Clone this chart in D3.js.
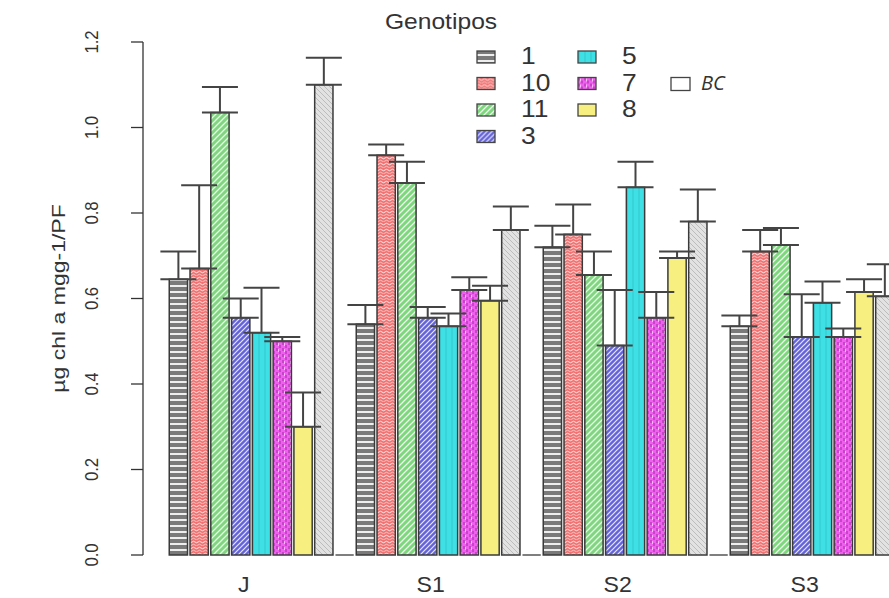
<!DOCTYPE html>
<html>
<head>
<meta charset="utf-8">
<script src="https://cdn.jsdelivr.net/npm/d3@7"></script>
<style>
  body { margin: 0; background: #fff; }
  text { font-family: "Liberation Sans", Arial, sans-serif; fill: #333; }
</style>
</head>
<body>
<div id="chart"></div>
<script>

  // data
  let groups = ["J", "S1", "S2", "S3"];
  let genotypes = ["1", "10", "11", "3", "5", "7", "8", "BC", "blank"];
  let yTicks = [0, 0.2, 0.4, 0.6, 0.8, 1.0, 1.2];

  let meanJ  = [0.645, 0.67, 1.035, 0.555, 0.52, 0.50, 0.30, 1.10, 0];
  let upperJ = [0.71, 0.865, 1.095, 0.60, 0.625, 0.51, 0.38, 1.163, 0];
  let meanS1  = [0.54, 0.935, 0.87, 0.555, 0.535, 0.62, 0.595, 0.76, 0];
  let upperS1 = [0.585, 0.96, 0.92, 0.58, 0.565, 0.65, 0.63, 0.815, 0];
  let meanS2  = [0.72, 0.75, 0.655, 0.49, 0.86, 0.555, 0.695, 0.78, 0];
  let upperS2 = [0.77, 0.82, 0.71, 0.62, 0.92, 0.615, 0.71, 0.855, 0];
  let meanS3  = [0.535, 0.71, 0.725, 0.51, 0.59, 0.51, 0.615, 0.605, 0];
  let upperS3 = [0.56, 0.76, 0.765, 0.61, 0.64, 0.53, 0.645, 0.68, 0];

  let means = [meanJ, meanS1, meanS2, meanS3];
  let uppers = [upperJ, upperS1, upperS2, upperS3];

  let width = 889;
  let height = 598;

  let svg = d3.select("#chart").append("svg")
              .attr("width", width)
              .attr("height", height);

  // fill patterns, one per genotype
  let defs = svg.append("defs");

  let makePattern = function(id, base, size, draw) {
    let p = defs.append("pattern")
                .attr("id", id)
                .attr("patternUnits", "userSpaceOnUse")
                .attr("width", size)
                .attr("height", size);
    p.append("rect").attr("width", size).attr("height", size).attr("fill", base);
    draw(p);
  }

  makePattern("p1", "#7a7a7a", 6, function(p) {
    p.append("rect").attr("x", 0).attr("y", 3).attr("width", 6).attr("height", 2).attr("fill", "#eee");
  });
  makePattern("p10", "#f07474", 6, function(p) {
    p.append("path").attr("d", "M0,2 q1.5,-1.5 3,0 t3,0").attr("stroke", "#fff").attr("stroke-width", 1).attr("fill", "none").attr("opacity", 0.8);
    p.append("path").attr("d", "M0,5 q1.5,-1.5 3,0 t3,0").attr("stroke", "#fbd0d0").attr("stroke-width", 0.8).attr("fill", "none");
  });
  makePattern("p11", "#7fd67f", 6, function(p) {
    p.append("path").attr("d", "M0,6 L6,0 M-1,1 L1,-1 M5,7 L7,5").attr("stroke", "#e8fbe8").attr("stroke-width", 1.3);
  });
  makePattern("p3", "#6464d8", 5, function(p) {
    p.append("path").attr("d", "M0,5 L5,0 M-1,1 L1,-1 M4,6 L6,4").attr("stroke", "#e6e6ff").attr("stroke-width", 1.2);
  });
  makePattern("p5", "#3ee0e6", 6, function(p) {
    p.append("path").attr("d", "M1,0 L1,6").attr("stroke", "#2ab8c0").attr("stroke-width", 0.6);
  });
  makePattern("p7", "#f060ee", 6, function(p) {
    p.append("path").attr("d", "M1,0 L1,3 M4,3 L4,6").attr("stroke", "#9a2aa0").attr("stroke-width", 1);
    p.append("path").attr("d", "M2.5,1 L2.5,4").attr("stroke", "#fbd0fb").attr("stroke-width", 0.8);
  });
  makePattern("p8", "#f7ef80", 6, function(p) {});
  makePattern("pBC", "#e2e2e2", 5, function(p) {
    p.append("path").attr("d", "M0,0 L5,5 M-1,4 L1,6 M4,-1 L6,1").attr("stroke", "#b8b8b8").attr("stroke-width", 0.9);
  });

  let fills = ["url(#p1)", "url(#p10)", "url(#p11)", "url(#p3)", "url(#p5)", "url(#p7)", "url(#p8)", "url(#pBC)", "none"];
  let legendFills = ["url(#p1)", "url(#p10)", "url(#p11)", "url(#p3)", "url(#p5)", "url(#p7)", "url(#p8)", "#fff"];

  // scales
  let y = d3.scaleLinear().domain([0, 1.2]).range([555, 42]);

  let x0 = d3.scaleBand()
             .domain(groups)
             .range([168, 168 + 187 * groups.length])
             .paddingInner(0)
             .paddingOuter(0);

  let x1 = d3.scaleBand()
             .domain(genotypes)
             .range([0, x0.bandwidth()])
             .paddingInner(0.12)
             .paddingOuter(0.06);

  // y axis
  let yAxis = svg.append("g")
                 .attr("transform", "translate(143,0)")
                 .call(d3.axisLeft(y).tickValues(yTicks).tickSize(12).tickFormat(d3.format(".1f")));
  yAxis.selectAll("path, line").attr("stroke", "#333").attr("stroke-width", 1.3);
  yAxis.select(".domain").attr("d", "M0," + y(0) + "V" + y(1.2));
  yAxis.selectAll(".tick").attr("transform", null);
  yAxis.selectAll(".tick line").attr("transform", function(d) { return "translate(0," + y(d) + ")"; });
  yAxis.selectAll("text")
       .attr("font-size", 19)
       .attr("fill", "#333")
       .attr("text-anchor", "middle")
       .attr("x", 0)
       .attr("y", 0)
       .attr("dy", 0)
       .attr("dominant-baseline", "middle")
       .attr("transform", function(d) { return "translate(-50," + y(d) + ") rotate(-90) scale(0.88,1)"; });

  svg.append("text")
     .attr("transform", "translate(60," + ((y(0) + y(1.2)) / 2) + ") rotate(-90) scale(1.28,1)")
     .attr("text-anchor", "middle")
     .attr("dominant-baseline", "middle")
     .attr("font-size", 18)
     .text("µg chl a mgg-1/PF");

  // bars
  let rows = [];
  groups.forEach(function(g, gi) {
    genotypes.forEach(function(k, ki) {
      rows.push({ group: g, key: k, i: ki, mean: means[gi][ki], upper: uppers[gi][ki] });
    });
  });

  let plot = svg.append("g");

  let groupNodes = plot.selectAll("g.group")
                       .data(groups)
                       .enter()
                       .append("g")
                       .attr("class", "group")
                       .attr("transform", function(d) { return "translate(" + x0(d) + ",0)"; });

  groupNodes.selectAll("rect.bar")
            .data(function(g) { return rows.filter(function(r) { return r.group == g && r.key != "blank"; }); })
            .enter()
            .append("rect")
            .attr("class", "bar")
            .attr("x", function(d) { return x1(d.key); })
            .attr("width", x1.bandwidth())
            .attr("y", function(d) { return y(d.mean); })
            .attr("height", function(d) { return y(0) - y(d.mean); })
            .attr("fill", function(d) { return fills[d.i]; })
            .attr("stroke", "#3a3a3a")
            .attr("stroke-width", 1.5);

  // empty spacer bar drawn as a flat line
  groupNodes.append("line")
            .attr("x1", x1("blank"))
            .attr("x2", x1("blank") + x1.bandwidth())
            .attr("y1", y(0))
            .attr("y2", y(0))
            .attr("stroke", "#555")
            .attr("stroke-width", 1.5);

  // error bars
  let capHalf = 18;
  let errs = groupNodes.selectAll("g.err")
                       .data(function(g) { return rows.filter(function(r) { return r.group == g && r.key != "blank"; }); })
                       .enter()
                       .append("g")
                       .attr("class", "err")
                       .attr("stroke", "#444")
                       .attr("stroke-width", 2);
  errs.append("line")
      .attr("x1", function(d) { return x1(d.key) + x1.bandwidth() / 2; })
      .attr("x2", function(d) { return x1(d.key) + x1.bandwidth() / 2; })
      .attr("y1", function(d) { return y(d.mean); })
      .attr("y2", function(d) { return y(d.upper); });
  errs.append("line")
      .attr("x1", function(d) { return x1(d.key) + x1.bandwidth() / 2 - capHalf; })
      .attr("x2", function(d) { return x1(d.key) + x1.bandwidth() / 2 + capHalf; })
      .attr("y1", function(d) { return y(d.upper); })
      .attr("y2", function(d) { return y(d.upper); });
  errs.append("line")
      .attr("x1", function(d) { return x1(d.key) + x1.bandwidth() / 2 - capHalf; })
      .attr("x2", function(d) { return x1(d.key) + x1.bandwidth() / 2 + capHalf; })
      .attr("y1", function(d) { return y(d.mean); })
      .attr("y2", function(d) { return y(d.mean); });

  // group labels
  groupNodes.append("text")
            .attr("transform", "translate(" + (x0.bandwidth() * 0.405) + ",592) scale(1.05,1)")
            .attr("text-anchor", "middle")
            .attr("font-size", 22)
            .text(function(d) { return d; });

  // legend
  let legend = svg.append("g");
  legend.append("text")
        .attr("transform", "translate(441,29) scale(1.12,1)")
        .attr("text-anchor", "middle")
        .attr("font-size", 22)
        .text("Genotipos");

  let legendItems = genotypes.slice(0, 7).map(function(k, i) {
    return { key: k, i: i, col: i < 4 ? 0 : 1, row: i < 4 ? i : i - 4 };
  });

  let li = legend.selectAll("g.item")
                 .data(legendItems)
                 .enter()
                 .append("g")
                 .attr("class", "item")
                 .attr("transform", function(d) { return "translate(" + (477 + d.col * 101) + "," + (57 + d.row * 26.5) + ")"; });
  li.append("rect")
    .attr("x", 0).attr("y", -6)
    .attr("width", 18).attr("height", 12)
    .attr("fill", function(d) { return legendFills[d.i]; })
    .attr("stroke", "#444")
    .attr("stroke-width", 1.3);
  li.append("text")
    .attr("transform", "translate(44,1) scale(1.1,1)")
    .attr("dominant-baseline", "middle")
    .attr("font-size", 24)
    .attr("fill", "#222")
    .text(function(d) { return d.key; });

  let bc = legend.append("g").attr("transform", "translate(671,83.5)");
  bc.append("rect")
    .attr("x", 0).attr("y", -6)
    .attr("width", 19).attr("height", 13)
    .attr("fill", legendFills[7])
    .attr("stroke", "#444")
    .attr("stroke-width", 1.3);
  bc.append("text")
    .attr("x", 30)
    .attr("y", 1)
    .attr("dominant-baseline", "middle")
    .attr("font-size", 20)
    .attr("font-style", "italic")
    .attr("fill", "#222")
    .style("font-family", "'Open Sans', sans-serif")
    .text(genotypes[7]);

</script>
</body>
</html>
